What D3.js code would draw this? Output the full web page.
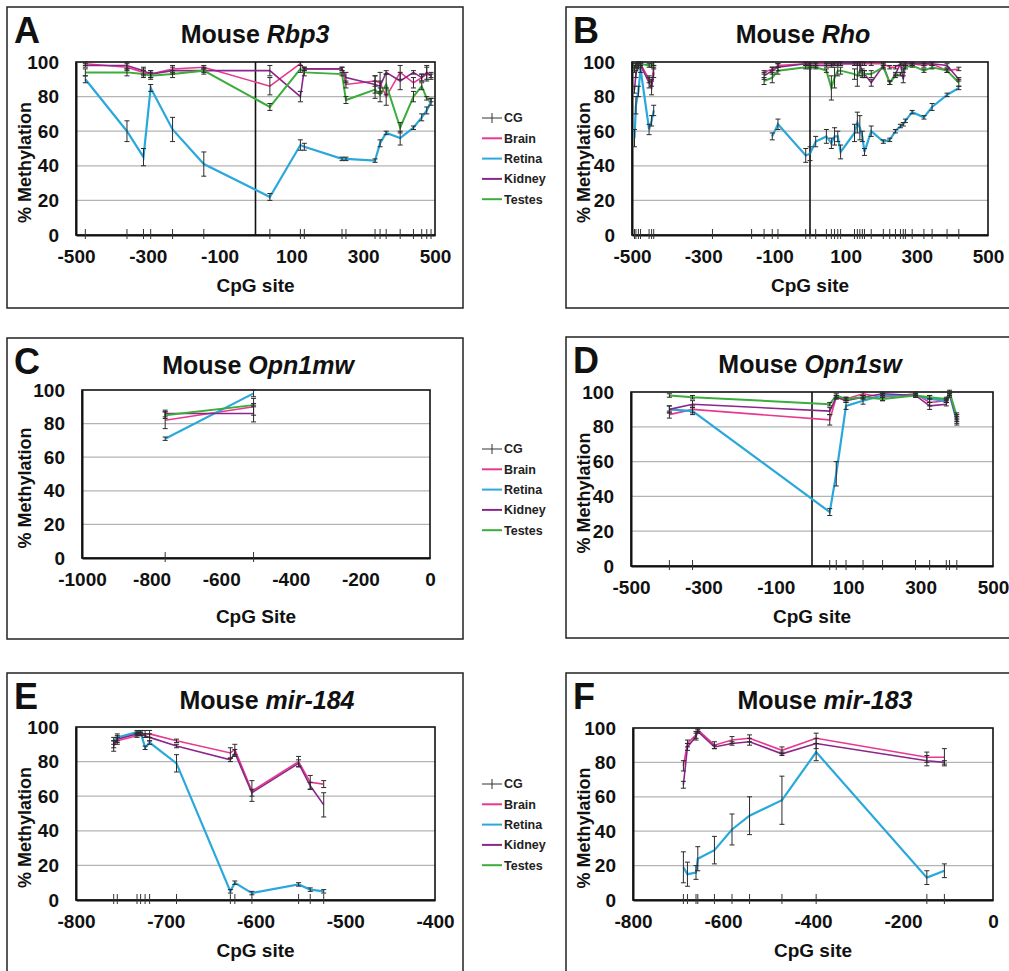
<!DOCTYPE html>
<html>
<head>
<meta charset="utf-8">
<script src="https://cdn.jsdelivr.net/npm/d3@7"></script>
<style>
  body { margin: 0; background: #fff; }
  svg { display: block; }
  text { font-family: Arial, "Liberation Sans", sans-serif; }
</style>
</head>
<body>
<div id="chart"></div>
<script>
var width = 1009;
var height = 971;

var legendNames = ["CG", "Brain", "Retina", "Kidney", "Testes"];
var colors = { Brain: "#e8398e", Retina: "#2aa8dc", Kidney: "#8c268c", Testes: "#3aad3a" };
var yTicks = [0, 20, 40, 60, 80, 100];

// A: Rbp3
var aSites = [-474, -358, -312, -292, -231, -144, 40, 125, 136, 241, 252, 333, 347, 364, 403, 440, 463, 477, 489];
var aBrain = [99, 97, 94, 93, 96, 97, 86, 99, 96, 96, 87, 89, 88, 80, 94, 88, 91, 93, 92];
var aBrainErr = [1, 2, 2, 2, 2, 1, 5, 1, 1, 1, 2, 3, 6, 5, 4, 3, 2, 4, 2];
var aRetina = [90, 60, 45, 85, 61, 41, 22, 52, 51, 44, 44, 43, 53, 59, 56, 62, 68, 72, 77];
var aRetinaErr = [2, 6, 5, 2, 7, 7, 2, 3, 2, 1, 1, 1, 2, 1, 4, 1, 2, 2, 2];
var aKidney = [98, 98, 95, 93, 95, 95, 95, 80, 96, 96, 91, 87, 86, 94, 89, 94, 91, 94, 92];
var aKidneyErr = [1, 2, 2, 2, 2, 1, 3, 3, 1, 1, 3, 5, 3, 1, 5, 1, 2, 4, 1];
var aTestes = [94, 94, 93, 92, 93, 95, 74, 96, 94, 93, 78, 84, 81, 87, 62, 80, 86, 79, 78];
var aTestesErr = [2, 2, 2, 2, 2, 2, 2, 2, 2, 1, 2, 5, 4, 6, 3, 3, 2, 1, 1];

// B: Rho
var bSites = [-493, -489, -482, -476, -452, -445, -439, -274, -164, -129, -106, -90, -12, 0, 16, 46, 60, 69, 78, 86,
  125, 133, 140, 147, 153, 172, 206, 224, 240, 254, 262, 268, 287, 320, 343, 385, 418];
var bBrain = [97, 98, 99, 99, 90, 88, 97, null, null, 94, 96, 98, 99, 99, 99, 99, 99, 99, 99, 99,
  99, 99, 99, 99, 99, 99, 99, 97, 97, 99, 98, 99, 99, 98, 99, 95, 96];
var bBrainErr = [1, 1, 1, 1, 2, 2, 1, null, null, 1, 1, 1, 1, 1, 1, 1, 1, 1, 1, 1,
  1, 1, 1, 1, 1, 1, 1, 1, 1, 1, 1, 1, 1, 1, 1, 1, 1];
var bRetina = [56, 75, 83, 96, 61, 66, 72, null, null, null, 57, 64, 46, 47, 54, 57, 53, 57, 57, 48,
  59, 65, 62, 57, 48, 60, 54, 55, 60, 63, 64, 66, 71, 68, 74, 81, 85];
var bRetinaErr = [5, 5, 3, 2, 3, 3, 3, null, null, null, 2, 3, 4, 4, 3, 4, 3, 5, 3, 4,
  5, 6, 7, 3, 2, 3, 1, 1, 1, 1, 1, 1, 1, 1, 2, 1, 1];
var bKidney = [84, 93, 98, 98, 88, 85, 94, null, null, 92, 95, 97, 99, 98, 98, 98, 98, 99, 99, 99,
  99, 99, 99, 94, 93, 88, 98, 88, 93, 99, 90, 99, 99, 99, 99, 98, 90];
var bKidneyErr = [2, 2, 2, 1, 3, 4, 3, null, null, 2, 2, 2, 1, 1, 1, 1, 1, 1, 1, 1,
  1, 1, 1, 2, 2, 2, 1, 1, 1, 1, 2, 1, 1, 1, 1, 1, 1];
var bTestes = [96, 98, 98, 99, 98, 98, 99, null, null, 89, 91, 95, 97, 97, 97, 95, 85, 91, 95, 95,
  93, 92, 95, 93, 93, 93, 97, 88, 92, 93, 95, 97, 98, 95, 97, 95, 88];
var bTestesErr = [2, 1, 1, 1, 1, 1, 1, null, null, 2, 3, 2, 1, 1, 1, 1, 7, 6, 3, 2,
  3, 6, 3, 2, 2, 2, 1, 1, 1, 1, 1, 1, 1, 1, 1, 1, 2];

// C: Opn1mw
var cSites = [-761, -507];
var cBrain = [82, 90];
var cBrainErr = [5, 5];
var cRetina = [71, 98];
var cRetinaErr = [1, 2];
var cKidney = [86, 86];
var cKidneyErr = [2, 5];
var cTestes = [85, 91];
var cTestesErr = [2, 1];

// D: Opn1sw
var dSites = [-394, -330, 49, 67, 94, 141, 195, 286, 325, 371, 380, 400];
var dBrain = [87, 90, 84, 97, 96, 99, 97, 99, 94, 95, 98, 85];
var dBrainErr = [2, 2, 3, 1, 1, 1, 2, 1, 2, 1, 1, 2];
var dRetina = [90, 89, 31, 53, 92, 95, 98, 98, 96, 95, 99, 83];
var dRetinaErr = [2, 2, 2, 7, 2, 2, 1, 1, 2, 1, 1, 2];
var dKidney = [90, 93, 89, 97, 95, 97, 99, 98, 92, 93, 99, 84];
var dKidneyErr = [2, 2, 2, 1, 1, 1, 1, 1, 2, 1, 1, 2];
var dTestes = [98, 97, 93, 98, 96, 97, 96, 98, 97, 96, 100, 86];
var dTestesErr = [1, 1, 1, 1, 1, 1, 1, 1, 1, 1, 1, 2];

// E: mir-184
var eSites = [-758, -754, -732, -728, -723, -718, -688, -628, -623, -604, -552, -539, -524];
var eBrain = [89, 92, 95, 96, 96, 96, 92, 85, 87, 63, 80, 68, 67];
var eBrainErr = [3, 2, 1, 1, 2, 2, 1, 3, 3, 6, 3, 4, 2];
var eRetina = [92, 94, 97, 97, 88, 91, 79, 5, 10, 4, 9, 6, 5];
var eRetinaErr = [2, 2, 1, 1, 1, 1, 5, 1, 1, 1, 1, 1, 1];
var eKidney = [90, 93, 96, 96, 95, 94, 89, 81, 85, 62, 79, 66, 55];
var eKidneyErr = [2, 2, 1, 1, 1, 2, 1, 1, 2, 2, 2, 2, 7];

// F: mir-183
var fSites = [-688, -679, -660, -656, -619, -580, -541, -469, -393, -147, -108];
var fBrain = [78, 91, 96, 99, 90, 93, 94, 87, 94, 83, 83];
var fBrainErr = [3, 2, 2, 1, 2, 2, 2, 2, 3, 3, 5];
var fRetina = [19, 15, 16, 24, 29, 41, 49, 58, 86, 13, 17];
var fRetinaErr = [9, 7, 4, 7, 8, 9, 11, 14, 5, 4, 4];
var fKidney = [67, 89, 95, 98, 89, 91, 92, 85, 91, 81, 80];
var fKidneyErr = [2, 2, 2, 1, 1, 1, 2, 1, 3, 3, 1];

var panels = [
  { letter: "A", gene: "Rbp3", xLabel: "CpG site", box: [7, 7], plot: [76, 62, 435, 235], domain: [-500, 500],
    ticks: [-500, -300, -100, 100, 300, 500], zero: true, titleX: 255, xLabelDy: 57,
    sites: aSites, series: [["Brain", aBrain, aBrainErr], ["Retina", aRetina, aRetinaErr], ["Kidney", aKidney, aKidneyErr], ["Testes", aTestes, aTestesErr]] },
  { letter: "B", gene: "Rho", xLabel: "CpG site", box: [566, 7], plot: [632, 62, 988, 235], domain: [-500, 500],
    ticks: [-500, -300, -100, 100, 300, 500], zero: true, titleX: 803, xLabelDy: 57,
    sites: bSites, series: [["Brain", bBrain, bBrainErr], ["Retina", bRetina, bRetinaErr], ["Kidney", bKidney, bKidneyErr], ["Testes", bTestes, bTestesErr]] },
  { letter: "C", gene: "Opn1mw", xLabel: "CpG Site", box: [7, 338], plot: [82, 390, 430, 558], domain: [-1000, 0],
    ticks: [-1000, -800, -600, -400, -200, 0], zero: false, titleX: 258, xLabelDy: 65,
    sites: cSites, series: [["Brain", cBrain, cBrainErr], ["Retina", cRetina, cRetinaErr], ["Kidney", cKidney, cKidneyErr], ["Testes", cTestes, cTestesErr]] },
  { letter: "D", gene: "Opn1sw", xLabel: "CpG site", box: [566, 337], plot: [631, 392, 993, 566], domain: [-500, 500],
    ticks: [-500, -300, -100, 100, 300, 500], zero: true, titleX: 810, xLabelDy: 57,
    sites: dSites, series: [["Brain", dBrain, dBrainErr], ["Retina", dRetina, dRetinaErr], ["Kidney", dKidney, dKidneyErr], ["Testes", dTestes, dTestesErr]] },
  { letter: "E", gene: "mir-184", xLabel: "CpG site", box: [7, 673], plot: [76, 727, 435, 900], domain: [-800, -400],
    ticks: [-800, -700, -600, -500, -400], zero: false, titleX: 267, xLabelDy: 57,
    sites: eSites, series: [["Brain", eBrain, eBrainErr], ["Retina", eRetina, eRetinaErr], ["Kidney", eKidney, eKidneyErr]] },
  { letter: "F", gene: "mir-183", xLabel: "CpG site", box: [566, 673], plot: [633, 728, 993, 900], domain: [-800, 0],
    ticks: [-800, -600, -400, -200, 0], zero: false, titleX: 825, xLabelDy: 57,
    sites: fSites, series: [["Brain", fBrain, fBrainErr], ["Retina", fRetina, fRetinaErr], ["Kidney", fKidney, fKidneyErr]] }
];

var legendTops = [118, 449, 784];

var svg = d3.select("#chart").append("svg").attr("width", width).attr("height", height);

function plainNumber(d) {
  return String(d);
}

function drawPanel(p) {
  var g = svg.append("g");
  var x0 = p.plot[0], y0 = p.plot[1], x1 = p.plot[2], y1 = p.plot[3];

  // outer frame (right column frames run off the page)
  g.append("rect")
    .attr("x", p.box[0]).attr("y", p.box[1])
    .attr("width", p.box[0] > 500 ? 470 : 456).attr("height", 301)
    .attr("fill", "none").attr("stroke", "#222").attr("stroke-width", 1.5);

  var xScale = d3.scaleLinear().domain(p.domain).range([x0, x1]);
  var yScale = d3.scaleLinear().domain([0, 100]).range([y1, y0]);

  // grid lines
  g.selectAll("line.grid")
    .data([20, 40, 60, 80])
    .enter()
    .append("line")
    .attr("class", "grid")
    .attr("x1", x0).attr("x2", x1)
    .attr("y1", function (d) { return yScale(d); })
    .attr("y2", function (d) { return yScale(d); })
    .attr("stroke", "#b4b4b4").attr("stroke-width", 1.2);

  // plot border
  g.append("rect")
    .attr("x", x0).attr("y", y0)
    .attr("width", x1 - x0).attr("height", y1 - y0)
    .attr("fill", "none").attr("stroke", "#111").attr("stroke-width", 1.6);

  if (p.zero) {
    g.append("line")
      .attr("x1", xScale(0)).attr("x2", xScale(0))
      .attr("y1", y0).attr("y2", y1)
      .attr("stroke", "#111").attr("stroke-width", 1.6);
  }

  // axes
  var xAxis = d3.axisBottom(xScale).tickValues(p.ticks).tickFormat(plainNumber).tickSize(0).tickPadding(15);
  var xg = g.append("g").attr("transform", "translate(0," + y1 + ")").call(xAxis);
  xg.select(".domain").attr("stroke", "#111").attr("stroke-width", 2);
  xg.selectAll("text")
    .attr("font-size", "19px").attr("font-weight", "bold").attr("fill", "#111")
    .attr("font-family", "Arial, 'Liberation Sans', sans-serif");

  var yAxis = d3.axisLeft(yScale).tickValues(yTicks).tickFormat(plainNumber).tickSize(0).tickPadding(17);
  var yg = g.append("g").attr("transform", "translate(" + x0 + ",0)").call(yAxis);
  yg.select(".domain").attr("stroke", "#111").attr("stroke-width", 2);
  yg.selectAll("text")
    .attr("font-size", "19px").attr("font-weight", "bold").attr("fill", "#111")
    .attr("font-family", "Arial, 'Liberation Sans', sans-serif");

  // CpG site ticks (CG series)
  g.selectAll("line.cg")
    .data(p.sites)
    .enter()
    .append("line")
    .attr("class", "cg")
    .attr("x1", function (d) { return xScale(d); })
    .attr("x2", function (d) { return xScale(d); })
    .attr("y1", yScale(0) - 6).attr("y2", yScale(0) + 4)
    .attr("stroke", "#333").attr("stroke-width", 1);

  // series lines
  p.series.forEach(function (s) {
    var pts = p.sites.map(function (site, i) { return { x: site, y: s[1][i], e: s[2][i] }; });
    var line = d3.line()
      .defined(function (d) { return d.y !== null; })
      .x(function (d) { return xScale(d.x); })
      .y(function (d) { return yScale(d.y); });
    g.append("path")
      .datum(pts)
      .attr("d", line)
      .attr("fill", "none")
      .attr("stroke", colors[s[0]])
      .attr("stroke-width", s[0] === "Retina" ? 2.2 : (s[0] === "Testes" ? 2 : 1.6));
  });

  // error bars
  p.series.forEach(function (s) {
    var pts = p.sites.map(function (site, i) { return { x: site, y: s[1][i], e: s[2][i] }; })
      .filter(function (d) { return d.y !== null; });
    var eb = g.append("g").attr("stroke", "#2a2a2a").attr("stroke-width", 1);
    eb.selectAll("line.bar").data(pts).enter().append("line")
      .attr("x1", function (d) { return xScale(d.x); })
      .attr("x2", function (d) { return xScale(d.x); })
      .attr("y1", function (d) { return yScale(d.y - d.e); })
      .attr("y2", function (d) { return yScale(d.y + d.e); });
    eb.selectAll("line.top").data(pts).enter().append("line")
      .attr("x1", function (d) { return xScale(d.x) - 2.5; })
      .attr("x2", function (d) { return xScale(d.x) + 2.5; })
      .attr("y1", function (d) { return yScale(d.y + d.e); })
      .attr("y2", function (d) { return yScale(d.y + d.e); });
    eb.selectAll("line.bot").data(pts).enter().append("line")
      .attr("x1", function (d) { return xScale(d.x) - 2.5; })
      .attr("x2", function (d) { return xScale(d.x) + 2.5; })
      .attr("y1", function (d) { return yScale(d.y - d.e); })
      .attr("y2", function (d) { return yScale(d.y - d.e); });
  });

  // letter
  g.append("text")
    .attr("x", p.box[0] + 7).attr("y", p.box[1] + 36)
    .attr("font-size", "36px").attr("font-weight", "bold").attr("fill", "#111")
    .text(p.letter);

  // title
  var t = g.append("text")
    .attr("x", p.titleX).attr("y", p.box[1] + 36)
    .attr("text-anchor", "middle")
    .attr("font-size", "25px").attr("font-weight", "bold").attr("fill", "#111");
  t.append("tspan").text("Mouse ");
  t.append("tspan").attr("font-style", "italic").text(p.gene);

  // axis titles
  g.append("text")
    .attr("x", (x0 + x1) / 2).attr("y", y1 + p.xLabelDy)
    .attr("text-anchor", "middle")
    .attr("font-size", "19px").attr("font-weight", "bold").attr("fill", "#111")
    .text(p.xLabel);

  var ly = (y0 + y1) / 2 + 14;
  var lx = p.box[0] + 18;
  g.append("text")
    .attr("transform", "translate(" + lx + "," + ly + ") rotate(-90)")
    .attr("text-anchor", "middle")
    .attr("dy", "0.35em")
    .attr("font-size", "18px").attr("font-weight", "bold").attr("fill", "#111")
    .text("% Methylation");
}

panels.forEach(drawPanel);

// legends
legendTops.forEach(function (top) {
  var lg = svg.append("g");
  legendNames.forEach(function (name, i) {
    var y = top + i * 20.3;
    lg.append("line")
      .attr("x1", 482).attr("x2", 502)
      .attr("y1", y).attr("y2", y)
      .attr("stroke", name === "CG" ? "#333" : colors[name])
      .attr("stroke-width", name === "CG" ? 1 : 2);
    if (name === "CG") {
      lg.append("line")
        .attr("x1", 492).attr("x2", 492)
        .attr("y1", y - 5).attr("y2", y + 5)
        .attr("stroke", "#333").attr("stroke-width", 1);
    }
    lg.append("text")
      .attr("x", 504).attr("y", y)
      .attr("dy", "0.35em")
      .attr("font-size", "12.5px").attr("font-weight", "bold").attr("fill", "#222")
      .text(name);
  });
});
</script>
</body>
</html>
